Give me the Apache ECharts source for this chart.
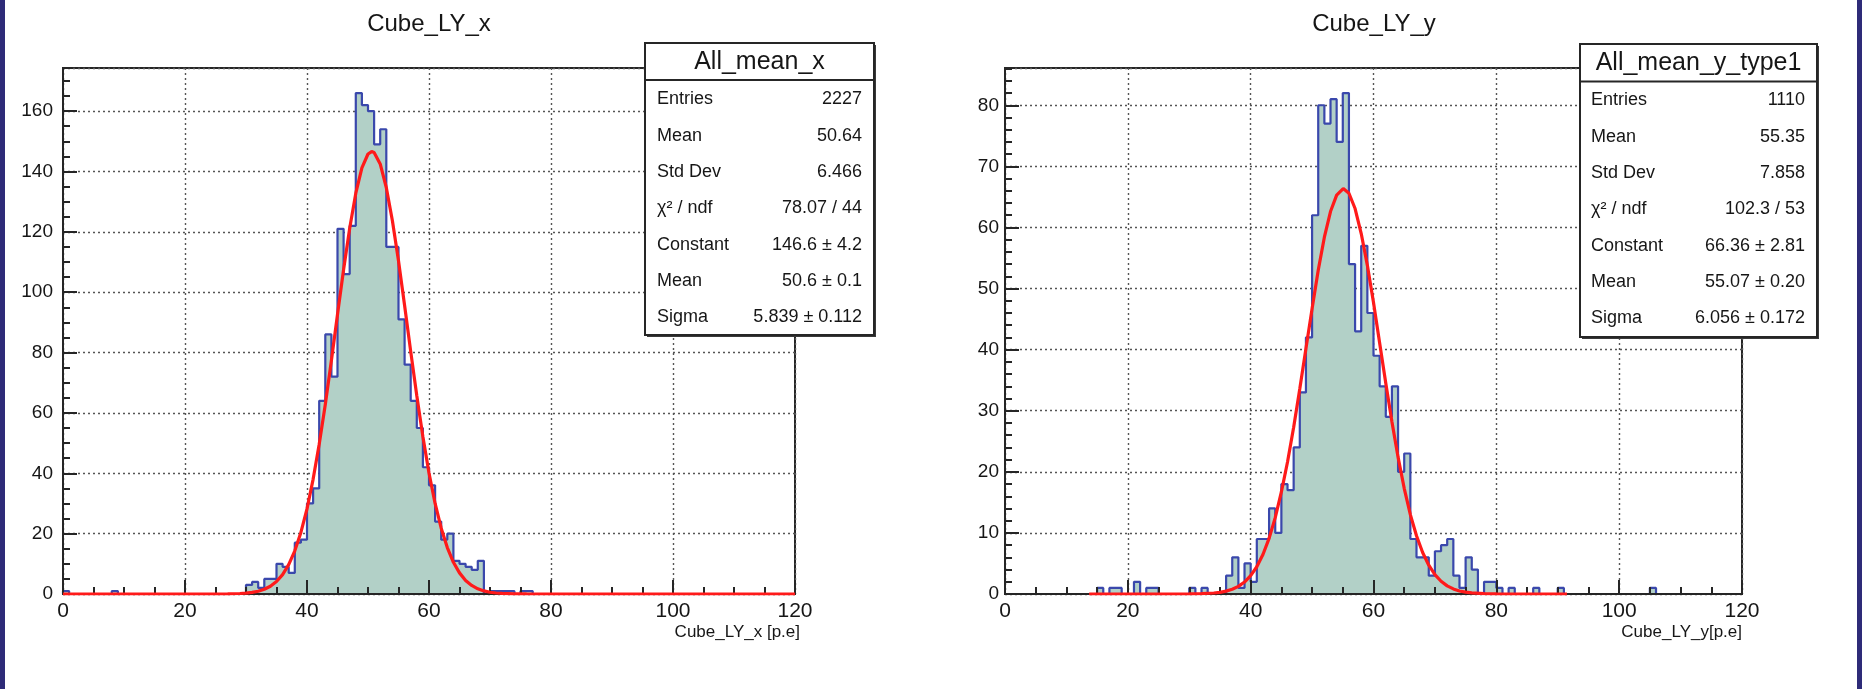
<!DOCTYPE html>
<html>
<head>
<meta charset="utf-8">
<script src="https://cdn.jsdelivr.net/npm/echarts@6/dist/echarts.min.js"></script>
<style>
html,body{margin:0;padding:0;background:#ffffff;}
#chart{width:1862px;height:689px;}
</style>
</head>
<body>
<div id="chart"></div>
<script>
// ---------------- data ----------------
const titles = ['Cube_LY_x', 'Cube_LY_y'];
const xAxisTitles = ['Cube_LY_x [p.e]', 'Cube_LY_y[p.e]'];
const boxTitles = ['All_mean_x', 'All_mean_y_type1'];
const statLabels = ['Entries', 'Mean', 'Std Dev', 'χ² / ndf', 'Constant', 'Mean', 'Sigma'];
const leftStats = ['2227', '50.64', '6.466', '78.07 / 44', '146.6 ± 4.2', '50.6 ± 0.1', '5.839 ± 0.112'];
const rightStats = ['1110', '55.35', '7.858', '102.3 / 53', '66.36 ± 2.81', '55.07 ± 0.20', '6.056 ± 0.172'];

const xRange = [0, 120];          // both histograms: 120 bins of width 1
const leftYMax = 174.3;
const rightYMax = 86.1;

// bin contents, bins [0,1), [1,2) ... [119,120)
const leftCounts = [
  1,0,0,0,0,0,0,0,1,0,
  0,0,0,0,0,0,0,0,0,0,
  0,0,0,0,0,0,0,0,0,0,
  3,4,2,5,5,10,9,7,17,18,
  30,35,64,86,72,121,106,122,166,162,
  160,149,154,115,115,91,76,64,55,42,
  36,24,18,20,11,10,9,8,11,0,
  1,1,1,1,0,1,1,0,0,0,
  0,0,0,0,0,0,0,0,0,0,
  0,0,0,0,0,0,0,0,0,0,
  0,0,0,0,0,0,0,0,0,0,
  0,0,0,0,0,0,0,0,0,0
];
const rightCounts = [
  0,0,0,0,0,0,0,0,0,0,
  0,0,0,0,0,1,0,1,1,0,
  0,2,0,1,1,0,0,0,0,0,
  1,0,1,0,0,0,3,6,1,5,
  2,9,9,14,10,18,17,24,33,42,
  62,80,77,81,74,82,54,43,57,46,
  39,34,29,34,20,23,9,6,6,3,
  7,8,9,3,1,6,4,0,2,2,
  1,0,1,0,0,0,1,0,0,0,
  1,0,0,0,0,0,0,0,0,0,
  0,0,0,0,0,1,0,0,0,0,
  0,0,0,0,0,0,0,0,0,0
];

// red fit curves
const leftFitX = [0,27,28,29,30,31,32,33,34,35,36,37,38,39,40,41,42,43,44,45,46,47,48,49,50,50.6,51,52,53,54,55,56,57,58,59,60,61,62,63,64,65,66,67,68,69,70,71,72,74,76,120];
const leftFitY = [0,0.04,0.08,0.16,0.29,0.52,0.92,1.56,2.58,4.13,6.43,9.73,14.3,20.4,28.2,38.0,49.6,62.8,77.4,92.6,107.5,121.2,132.8,141.2,145.8,146.6,146.3,142.5,134.7,123.7,110.4,95.6,80.4,65.7,52.1,40.1,30.0,21.8,15.4,10.5,7.0,4.5,2.84,1.73,1.02,0.59,0.33,0.18,0.05,0.01,0];
const rightFitX = [13.7,30,32,34,35,36,37,38,39,40,41,42,43,44,45,46,47,48,49,50,51,52,53,54,55.07,56,57,58,59,60,61,62,63,64,65,66,67,68,69,70,71,72,73,74,75,76,78,80,91.5];
const rightFitY = [0,0.01,0.05,0.16,0.27,0.47,0.77,1.25,1.96,3.00,4.46,6.46,9.11,12.5,16.7,21.6,27.3,33.6,40.2,46.7,53.0,58.4,62.6,65.3,66.36,65.6,63.1,59.0,53.8,47.7,41.1,34.5,28.2,22.4,17.3,13.0,9.53,6.79,4.71,3.18,2.09,1.33,0.83,0.50,0.30,0.17,0.05,0.01,0];

// ---------------- styling ----------------
const FONT = '"Liberation Sans", Arial, Helvetica, sans-serif';
const INK = '#161616';
const FRAME = '#262626';
const HIST_LINE = '#3a48ac';
const HIST_FILL = '#b2d0c7';
const FIT = '#ff1a1a';

function histData(counts) {
  const d = [[xRange[0], 0]];
  counts.forEach((c, i) => d.push([xRange[0] + i, c]));
  d.push([xRange[0] + counts.length, counts[counts.length - 1]]);
  d.push([xRange[0] + counts.length, 0]);
  return d;
}
function zip(xs, ys) { return xs.map((x, i) => [x, ys[i]]); }

const grids = [
  {left: 63, top: 68, width: 732, height: 526},
  {left: 1005, top: 68, width: 737, height: 526}
];

const dotted = {type: [2, 3], color: '#555', width: 1.4};

function xAxes(g) {
  return [
    { // labels + grid
      gridIndex: g, type: 'value', min: xRange[0], max: xRange[1], interval: 20, position: 'bottom',
      axisLine: {show: false}, axisTick: {show: false},
      axisLabel: {fontSize: 21, color: INK, margin: 7, fontFamily: FONT},
      splitLine: {show: true, lineStyle: dotted}, z: 0
    },
    { // axis line + ticks over the histogram
      gridIndex: g, type: 'value', min: xRange[0], max: xRange[1], interval: 20, position: 'bottom', offset: 0,
      axisLine: {show: true, onZero: false, lineStyle: {color: FRAME, width: 2}},
      axisTick: {show: true, inside: true, length: 14, lineStyle: {color: FRAME, width: 2}},
      minorTick: {show: true, splitNumber: 4, length: 7, lineStyle: {color: FRAME, width: 2}},
      axisLabel: {show: false}, splitLine: {show: false}, z: 4
    }
  ];
}
function yAxes(g, max, major, minor) {
  return [
    {
      gridIndex: g, type: 'value', min: 0, max: max, interval: major, position: 'left',
      axisLine: {show: true, onZero: false, lineStyle: {color: FRAME, width: 2}},
      axisTick: {show: true, inside: true, length: 14, lineStyle: {color: FRAME, width: 2}},
      axisLabel: {fontSize: 19, color: INK, margin: g === 0 ? 10 : 6, fontFamily: FONT,
                  showMaxLabel: false,
                  formatter: v => (Math.abs(v / major - Math.round(v / major)) < 1e-6 ? String(v) : '')},
      splitLine: {show: true, lineStyle: dotted}, z: 0
    },
    {
      gridIndex: g, type: 'value', min: 0, max: max, interval: minor, position: 'left', offset: 0,
      axisLine: {show: false},
      axisTick: {show: true, inside: true, length: 7, lineStyle: {color: FRAME, width: 2}},
      axisLabel: {show: false}, splitLine: {show: false}, z: 4
    }
  ];
}

const series = [];
[[leftCounts, zip(leftFitX, leftFitY)], [rightCounts, zip(rightFitX, rightFitY)]].forEach((pair, g) => {
  series.push({
    type: 'line', xAxisIndex: g * 2, yAxisIndex: g * 2, step: 'end',
    data: histData(pair[0]), symbol: 'none', silent: true, animation: false,
    lineStyle: {color: HIST_LINE, width: 2.2},
    areaStyle: {color: HIST_FILL, opacity: 1, origin: 'start'},
    z: 2
  });
  series.push({
    type: 'line', xAxisIndex: g * 2, yAxisIndex: g * 2,
    data: pair[1], symbol: 'none', silent: true, animation: false, smooth: false,
    lineStyle: {color: FIT, width: 3.2}, z: 6
  });
});

// ---------------- text and stat boxes ----------------
function txt(x, y, text, size, align, extra) {
  return Object.assign({
    type: 'text', x: x, y: y, z: 120, silent: true,
    style: {text: text, fontSize: size, fontFamily: FONT, fill: INK,
            align: align, textAlign: align, verticalAlign: 'middle', textVerticalAlign: 'middle'}
  }, extra || {});
}
function statBox(b, title, values) {
  const els = [];
  els.push({type: 'rect', z: 110, silent: true,
            shape: {x: b.x + 2, y: b.y + 2, width: b.w, height: b.h},
            style: {fill: '#3a3a3a', stroke: null}});
  els.push({type: 'rect', z: 111, silent: true,
            shape: {x: b.x, y: b.y, width: b.w, height: b.h},
            style: {fill: '#ffffff', stroke: FRAME, lineWidth: 2}});
  els.push({type: 'line', z: 112, silent: true,
            shape: {x1: b.x, y1: b.sep, x2: b.x + b.w, y2: b.sep},
            style: {stroke: FRAME, lineWidth: 2}});
  els.push(txt(b.x + b.w / 2, b.titleY, title, 25, 'center'));
  statLabels.forEach((lab, i) => {
    const y = b.row0 + i * b.step;
    els.push(txt(b.labX, y, lab, 18, 'left'));
    els.push(txt(b.valX, y, values[i], 18, 'right'));
  });
  return els;
}

const graphic = [
  {type: 'rect', z: 130, silent: true, shape: {x: 0, y: 0, width: 5, height: 689}, style: {fill: '#2e2b78'}},
  {type: 'rect', z: 130, silent: true, shape: {x: 1857, y: 0, width: 5, height: 689}, style: {fill: '#2e2b78'}},
  txt(429, 24, titles[0], 24, 'center'),
  txt(1374, 24, titles[1], 24, 'center'),
  txt(800, 632, xAxisTitles[0], 17, 'right'),
  txt(1742, 632, xAxisTitles[1], 17, 'right')
].concat(
  statBox({x: 645, y: 43, w: 229, h: 292, sep: 80, titleY: 62, labX: 657, valX: 862, row0: 99.5, step: 36.3}, boxTitles[0], leftStats),
  statBox({x: 1580, y: 44, w: 237, h: 293, sep: 81.5, titleY: 63, labX: 1591, valX: 1805, row0: 100.5, step: 36.3}, boxTitles[1], rightStats)
);

const option = {
  backgroundColor: '#ffffff',
  animation: false,
  grid: grids.map(g => Object.assign({show: true, borderColor: FRAME, borderWidth: 2, backgroundColor: 'transparent', containLabel: false}, g)),
  xAxis: xAxes(0).concat(xAxes(1)),
  yAxis: yAxes(0, leftYMax, 20, 5).concat(yAxes(1, rightYMax, 10, 2)),
  series: series,
  graphic: graphic
};

const chart = echarts.init(document.getElementById('chart'), null, {renderer: 'canvas', width: 1862, height: 689});
chart.setOption(option);
</script>
</body>
</html>
